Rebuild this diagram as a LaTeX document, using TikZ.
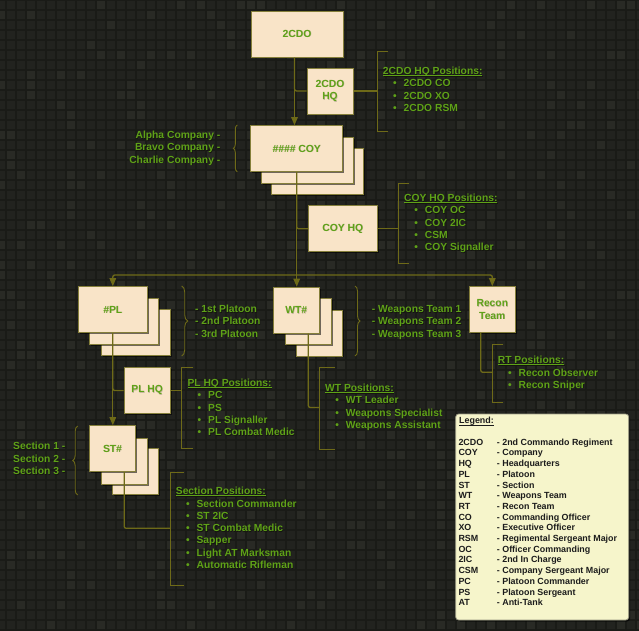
\documentclass[tikz,border=0pt]{standalone}
\usepackage{fontspec}
\setmainfont{Liberation Sans}
\usetikzlibrary{arrows.meta,shadows,decorations.pathreplacing}

\definecolor{bgcell}{HTML}{22231F}
\definecolor{bgcellhi}{HTML}{292A25}
\definecolor{bgline}{HTML}{1A1B17}
\definecolor{boxfill}{HTML}{F9E4C8}
\definecolor{boxedge}{HTML}{857F3A}
\definecolor{wire}{HTML}{6E6A18}
\definecolor{labelgreen}{HTML}{5FA218}
\definecolor{shadowink}{HTML}{14150F}
\definecolor{boxshadowink}{HTML}{C8B8A0}
\definecolor{legendfill}{HTML}{F6F5CB}
\definecolor{legendedge}{HTML}{9B9A84}
\definecolor{legendtext}{HTML}{1C1C1C}

\newcommand\lblfont{\fontsize{10.3}{12.4}\selectfont\bfseries}
\newcommand\legfont{\fontsize{8.9}{10.7}\selectfont\bfseries}

% underline set close to the baseline
\newcommand\ulabel[1]{\setbox0\hbox{#1}\rlap{\rule[-1.5pt]{\wd0}{0.9pt}}\box0}
% text with a soft offset shadow (dark ground / light ground)
\newcommand\sh[1]{\leavevmode\rlap{\kern0.6pt\raisebox{-0.6pt}{\textcolor{shadowink}{#1}}}#1}
\newcommand\shl[1]{\leavevmode\rlap{\kern0.5pt\raisebox{-0.5pt}{\textcolor{boxshadowink}{#1}}}#1}

% bracket "[" with named top, bottom and joint coordinates
% #1 name, #2 x, #3 top y, #4 bottom y, #5 joint y, #6 tick length
\newcommand\posbracket[6]{%
  \coordinate (#1-top) at (#2,#3);
  \coordinate (#1-bot) at (#2,#4);
  \coordinate (#1-mid) at (#2,#5);
  \draw[bracketline] ([xshift=#6pt]#1-top) -- (#1-top) -- (#1-bot) -- ([xshift=#6pt]#1-bot);}

% underlined title followed by a bulleted list
% #1 name, #2 x, #3 title baseline, #4 title, #5 items
\newcommand\poslist[5]{%
  \node[postitle] (#1) at (#2,#3) {\sh{\ulabel{#4}}};
  \foreach \t [count=\i] in {#5} \node[positem] (#1-\i) at (#2,#3+12.3*\i) {\sh{\t}};}

\begin{document}
\begin{tikzpicture}[x=1pt,y=-1pt,
  unit/.style={draw=boxedge, fill=boxfill, line width=1pt, text=labelgreen,
    font=\lblfont, align=center, inner sep=0pt,
    drop shadow={shadow xshift=1.3pt, shadow yshift=-1.3pt, opacity=.55, fill=black}},
  wide/.style={unit, minimum width=92pt, minimum height=46pt},
  mid/.style={unit, minimum width=69pt, minimum height=46pt},
  small/.style={unit, minimum width=46pt, minimum height=46pt},
  conn/.style={draw=wire, line width=1.3pt, rounded corners=2pt},
  arrowed/.style={-{Triangle[width=6.5pt,length=8pt]}},
  bracketline/.style={draw=wire, line width=1pt},
  bracebar/.style={draw=wire, line width=0.9pt, decorate,
    decoration={brace, amplitude=#1}},
  postitle/.style={anchor=base west, inner sep=0pt, text=labelgreen, font=\lblfont},
  positem/.style={postitle,
    execute at begin node={\hspace*{10.2pt}\makebox[10.5pt][l]{•}}},
  leftlabel/.style={anchor=base east, inner sep=0pt, text=labelgreen, font=\lblfont},
  rightlabel/.style={anchor=base west, inner sep=0pt, text=labelgreen, font=\lblfont},
  legendbox/.style={draw=legendedge, fill=legendfill, line width=0.8pt,
    rounded corners=3pt, minimum width=173pt, minimum height=206pt, inner sep=0pt,
    drop shadow={shadow xshift=1.5pt, shadow yshift=-1.5pt, opacity=.6, fill=black}},
  legendentry/.style={anchor=base west, inner sep=0pt, text=legendtext, font=\legfont}]

\useasboundingbox (0,0) rectangle (639,630);

% tiled dark backdrop
\fill[bgcell] (0,0) rectangle (639,630);
\pgfmathsetseed{4711}
\foreach \ci in {-1,...,63}{
  \foreach \cj in {0,...,62}{
    \pgfmathtruncatemacro\hit{rnd<0.13}
    \ifnum\hit=1 \fill[bgcellhi] (6+10*\ci,10*\cj) rectangle ++(10,10);\fi
  }}
\foreach \gx in {6,16,...,636} \draw[bgline, line width=1.2pt] (\gx,0) -- (\gx,630);
\foreach \gy in {0,10,...,630} \draw[bgline, line width=1.2pt] (0,\gy) -- (639,\gy);

% units
\node[wide] (top) at (297,34) {\shl{2CDO}};
\node[small] (cdohq) at (330,91) {\shl{2CDO}\\\shl{HQ}};

\node[wide] (coy3) at (317.7,171.7) {};
\node[wide] (coy2) at (307.2,160.2) {};
\node[wide] (coy) at (296.7,148.7) {\shl{\#\#\#\# COY}};
\node[mid] (coyhq) at (342.8,228.8) {\shl{COY HQ}};

\node[mid] (pl3) at (135.7,332.5) {};
\node[mid] (pl2) at (124.3,321.3) {};
\node[mid] (pl) at (112.8,309.7) {\shl{\#PL}};

\node[small] (wt3) at (319.7,333) {};
\node[small] (wt2) at (308.3,321.7) {};
\node[small] (wt) at (296.3,310.2) {\shl{WT\#}};

\node[small] (recon) at (492.3,309.7) {\shl{Recon}\\\shl{Team}};
\node[small] (plhq) at (147.2,390.5) {\shl{PL HQ}};

\node[small] (st3) at (135.7,471.7) {};
\node[small] (st2) at (124.2,461.2) {};
\node[small] (st) at (112.5,448.7) {\shl{ST\#}};

% chain of command
\draw[conn] ([xshift=-2.5pt]top.south) |- (cdohq.west);
\draw[conn,arrowed] ([xshift=-2.5pt]top.south) -- ([xshift=-2.5pt]top.south |- coy.north);
\draw[conn] (coy.south) |- (coyhq.west);
\coordinate (bus) at (296.7,275);
\draw[conn] (coy.south) -- (bus);
\draw[conn,arrowed] (bus) -- (bus |- wt.north);
\draw[conn,arrowed] (bus) -| (pl.north);
\draw[conn,arrowed] (bus) -| (recon.north);
\draw[conn] (pl.south) |- (plhq.west);
\draw[conn,arrowed] (pl.south) -- (pl.south |- st.north);

% position brackets and their feeds
\posbracket{cdohqb}{377}{51}{131}{91}{11}
\posbracket{coyhqb}{398.3}{183.3}{263}{228.8}{11}
\posbracket{rtb}{492.5}{344}{402}{372.3}{10.8}
\posbracket{wtb}{319.5}{367.7}{449.3}{407.5}{15.5}
\posbracket{plhqb}{181}{367.3}{448.7}{390.5}{12.3}
\posbracket{stb}{170}{472.7}{585.3}{528.3}{13.7}

\draw[conn] (cdohq.east) -- (cdohqb-mid);
\draw[conn] (coyhq.east) -- (coyhqb-mid);
\draw[conn] (plhq.east) -- (plhqb-mid);
\draw[conn] ([xshift=-11.5pt]recon.south) |- (rtb-mid);
\draw[conn] (wt.south -| wt2.center) |- (wtb-mid);
\draw[conn] (st.south -| st2.center) |- (stb-mid);

% position lists
\poslist{cdohqt}{382.7}{74.4}{2CDO HQ Positions:}{2CDO CO,2CDO XO,2CDO RSM}
\poslist{coyhqt}{404}{201.4}{COY HQ Positions:}{COY OC,COY 2IC,CSM,COY Signaller}
\poslist{rtt}{497.7}{363.7}{RT Positions:}{Recon Observer,Recon Sniper}
\poslist{wtt}{325}{391.4}{WT Positions:}{WT Leader,Weapons Specialist,Weapons Assistant}
\poslist{plhqt}{187.3}{386.4}{PL HQ Positions:}{PC,PS,PL Signaller,PL Combat Medic}
\poslist{stt}{175.7}{494.7}{Section Positions:}{Section Commander,ST 2IC,ST Combat Medic,Sapper,Light AT Marksman,Automatic Rifleman}

% braces with the numbered sub-units
\coordinate (coybr-a) at (237.3,171.7);
\coordinate (coybr-b) at (237.3,125);
\draw[bracebar=4pt] (coybr-a) -- (coybr-b);
\coordinate (plbr-a) at (181.7,286);
\coordinate (plbr-b) at (181.7,356);
\draw[bracebar=6pt] (plbr-a) -- (plbr-b);
\coordinate (wtbr-a) at (355,286);
\coordinate (wtbr-b) at (355,356);
\draw[bracebar=5pt] (wtbr-a) -- (wtbr-b);
\coordinate (stbr-a) at (77.7,495);
\coordinate (stbr-b) at (77.7,426);
\draw[bracebar=5pt] (stbr-a) -- (stbr-b);

\foreach \t [count=\i] in {Alpha Company -,Bravo Company -,Charlie Company -}
  \node[leftlabel] (coyname-\i) at (220.5,126.5+12.2*\i) {\sh{\t}};
\foreach \t [count=\i] in {- 1st Platoon,- 2nd Platoon,- 3rd Platoon}
  \node[rightlabel] (plname-\i) at (195,300.5+12.2*\i) {\sh{\t}};
\foreach \t [count=\i] in {- Weapons Team 1,- Weapons Team 2,- Weapons Team 3}
  \node[rightlabel] (wtname-\i) at (371.7,300.5+12.2*\i) {\sh{\t}};
\foreach \t [count=\i] in {Section 1 -,Section 2 -,Section 3 -}
  \node[leftlabel] (stname-\i) at (65.5,437.5+12.3*\i) {\sh{\t}};

% legend
\node[legendbox] (legend) at (542.2,517) {};
\node[legendentry] (legendtitle) at (459,423.9) {\ulabel{Legend:}};
\foreach \a/\d [count=\k from 0] in {2CDO/2nd Commando Regiment,COY/Company,HQ/Headquarters,PL/Platoon,ST/Section,WT/Weapons Team,RT/Recon Team,CO/Commanding Officer,XO/Executive Officer,RSM/Regimental Sergeant Major,OC/Officer Commanding,2IC/2nd In Charge,CSM/Company Sergeant Major,PC/Platoon Commander,PS/Platoon Sergeant,AT/Anti-Tank}{
  \node[legendentry] (abbr-\k) at (458.3,445.2+10.7*\k) {\a};
  \node[legendentry] (meaning-\k) at (496.7,445.2+10.7*\k) {- \d};
}
\end{tikzpicture}
\end{document}
